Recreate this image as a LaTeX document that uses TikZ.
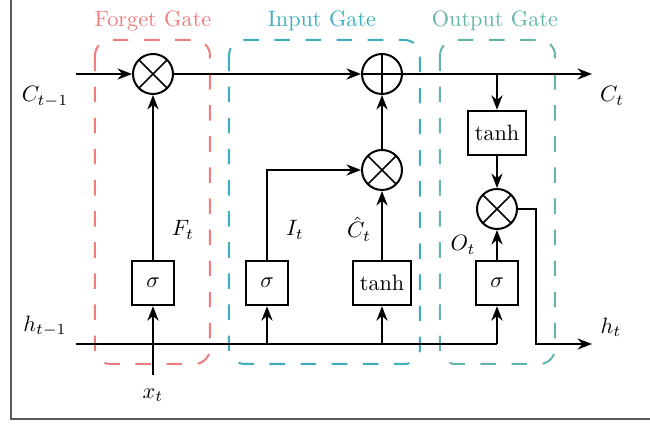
\documentclass[tikz,border=0pt]{standalone}
\usepackage{amsmath,amssymb}
\usepackage{tikz}
\usetikzlibrary{arrows.meta,calc,positioning}
\definecolor{forgetred}{RGB}{238,125,125}
\definecolor{inputteal}{RGB}{62,174,188}
\definecolor{outputteal}{RGB}{100,180,168}
\tikzset{
  wire/.style={black, line width=0.9pt},
  flow/.style={wire, -{Stealth[length=6.5pt,width=5pt]}},
  actbox/.style={draw=black, line width=0.9pt, fill=white,
                 minimum width=18.5pt, minimum height=20pt,
                 inner sep=0pt, font=\normalsize},
  tanhbox/.style={actbox, minimum width=26.5pt},
  mult/.style={draw=black, line width=0.9pt, circle, minimum size=18pt,
               inner sep=0pt,
               path picture={\draw[line width=0.7pt]
                 (path picture bounding box.north west) -- (path picture bounding box.south east)
                 (path picture bounding box.north east) -- (path picture bounding box.south west);}},
  plus/.style={draw=black, line width=0.9pt, circle, minimum size=18pt,
               inner sep=0pt,
               path picture={\draw[line width=0.7pt]
                 (path picture bounding box.north) -- (path picture bounding box.south)
                 (path picture bounding box.east) -- (path picture bounding box.west);}},
  gatebox/.style={line width=0.9pt, dash pattern=on 7pt off 7pt, rounded corners=7pt},
  gatelab/.style={font=\normalsize},
  lab/.style={font=\normalsize},
}
\begin{document}
\begin{tikzpicture}[x=0.45pt,y=-0.45pt]
  \path[use as bounding box] (0,0) rectangle (650,425);

  % Frame.
  \draw[black!65, line width=1.3pt] (11,0) -- (11,419) -- (650,419);

  % Gate regions.
  \draw[gatebox, forgetred] (95,40) rectangle (210,364);
  \draw[gatebox, inputteal] (229,40) rectangle (420,364);
  \draw[gatebox, outputteal] (440,40) rectangle (555,364);
  \node[gatelab, text=forgetred] (forgetlab) at (153,21) {Forget Gate};
  \node[gatelab, text=inputteal] (inputlab) at (322,21) {Input Gate};
  \node[gatelab, text=outputteal] (outputlab) at (495,21) {Output Gate};

  % Operators.
  \node[mult] (fmul) at (153,74) {};
  \node[plus] (cadd) at (382,74) {};
  \node[mult] (imul) at (382,170) {};
  \node[mult] (omul) at (497,209) {};

  \node[actbox] (fsig) at (153,283) {$\sigma$};
  \node[actbox] (isig) at (267,283) {$\sigma$};
  \node[tanhbox] (itanh) at (382,283) {$\tanh$};
  \node[actbox] (osig) at (497,283) {$\sigma$};
  \node[tanhbox] (otanh) at (497,133) {$\tanh$};

  % Ends.
  \coordinate (cin) at (76,74);
  \coordinate (cout) at (592,74);
  \coordinate (ctap) at (497,74);
  \coordinate (hin) at (76,344);
  \coordinate (htap) at (497,344);
  \coordinate (hdrop) at (536,344);
  \coordinate (hout) at (592,344);
  \coordinate (xin) at (153,375);

  % Cell state.
  \draw[flow] (cin) -- (fmul);
  \draw[flow] (fmul) -- (cadd);
  \draw[flow] (cadd) -- (cout);
  \draw[flow] (ctap) -- (otanh);

  % Hidden state and input.
  \draw[wire] (hin) -- (htap);
  \draw[flow] (xin) -- (fsig);
  \draw[flow] (isig |- hin) -- (isig);
  \draw[flow] (itanh |- hin) -- (itanh);
  \draw[flow] (htap) -- (osig);

  % Gate signals.
  \draw[flow] (fsig) -- (fmul);
  \draw[flow] (isig) |- (imul);
  \draw[flow] (itanh) -- (imul);
  \draw[flow] (imul) -- (cadd);
  \draw[flow] (otanh) -- (omul);
  \draw[flow] (osig) -- (omul);
  \draw[flow] (omul) -| (hdrop) -- (hout);

  % Labels.
  \node[lab] (cprev) at (45,97) {$C_{t-1}$};
  \node[lab] (cnext) at (612,96) {$C_t$};
  \node[lab] (hprev) at (45,326) {$h_{t-1}$};
  \node[lab] (hnext) at (611,327) {$h_t$};
  \node[lab] (xcur) at (153,395) {$x_t$};
  \node[lab] (flab) at (183,230) {$F_t$};
  \node[lab] (ilab) at (295,230) {$I_t$};
  \node[lab] (clab) at (359,229) {$\hat{C}_t$};
  \node[lab] (olab) at (463,245) {$O_t$};
\end{tikzpicture}
\end{document}
